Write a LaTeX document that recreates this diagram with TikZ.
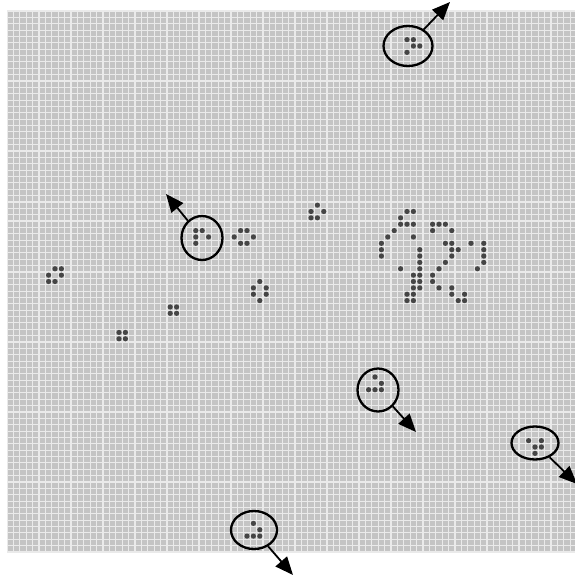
\documentclass[tikz,border=0pt]{standalone}
\usetikzlibrary{shapes.geometric,arrows.meta}
\definecolor{cellgray}{HTML}{C4C4C4}
\definecolor{gridline}{HTML}{EAEAEA}
\definecolor{dotgray}{HTML}{454545}
\begin{document}
\begin{tikzpicture}[x=1pt,y=-1pt,
  dot/.style={fill=dotgray},
  gridrule/.style={draw=gridline,line width=1.1pt},
  ring/.style={ellipse,draw=black,line width=2.3pt,inner sep=0pt,fill=none},
  motion/.style={draw=black,line width=1.8pt,-{Triangle[length=18pt,width=15pt]}}]
\useasboundingbox (0,0) rectangle (575,575);
\fill[white] (0,0) rectangle (575,575);
\fill[cellgray] (7,11) rectangle (575,552);
\begin{scope}
\clip (7,11) rectangle (575,552);
\begin{scope}[shift={(10.2pt,-14.1825pt)},x=6.4pt,y=-6.365pt]
\foreach \k in {0,...,89} \draw[gridrule] (\k-0.5,-1) -- (\k-0.5,86);
\foreach \k in {0,...,85} \draw[gridrule] (-1,\k-0.5) -- (90,\k-0.5);
% gliders
\foreach \i/\j in {62/4,63/4,63/5,64/5,62/6,
  29/34,30/34,29/35,31/35,29/36,
  57/57,58/58,56/59,57/59,58/59,
  81/67,83/67,82/68,83/68,82/69,
  38/80,39/81,37/82,38/82,39/82} \fill[dot] (\i,\j) circle[radius=2.6pt];
% still lifes
\foreach \i/\j in {36/34,37/34,35/35,38/35,36/36,37/36,
  39/42,38/43,40/43,38/44,40/44,39/45,
  48/30,47/31,49/31,47/32,48/32,
  7/40,8/40,6/41,8/41,6/42,7/42,
  25/46,26/46,25/47,26/47,
  17/50,18/50,17/51,18/51} \fill[dot] (\i,\j) circle[radius=2.6pt];
% complex region
\foreach \i/\j in {62/31,63/31,
  61/32,
  61/33,62/33,63/33,66/33,67/33,68/33,
  60/34,66/34,69/34,
  59/35,63/35,
  58/36,68/36,69/36,72/36,74/36,
  58/37,64/37,69/37,70/37,74/37,
  58/38,64/38,69/38,74/38,
  64/39,68/39,74/39,
  61/40,64/40,67/40,73/40,
  63/41,64/41,66/41,
  63/42,64/42,66/42,
  63/43,64/43,67/43,69/43,
  62/44,63/44,69/44,71/44,
  62/45,63/45,70/45,71/45} \fill[dot] (\i,\j) circle[radius=2.6pt];
\end{scope}
\end{scope}
% rings and motion arrows
\node[ring,minimum width=49pt,minimum height=40pt] (e1) at (408,46) {};
\node[ring,minimum width=41pt,minimum height=44pt] (e2) at (202,238) {};
\node[ring,minimum width=41pt,minimum height=43pt] (e3) at (378,390) {};
\node[ring,minimum width=47pt,minimum height=33pt] (e4) at (535,443) {};
\node[ring,minimum width=46pt,minimum height=38pt] (e5) at (254,530) {};
\coordinate (t1) at (450,2);
\coordinate (t2) at (166,194);
\coordinate (t3) at (416,432);
\coordinate (t4) at (577,484);
\coordinate (t5) at (293,575);
\draw[motion] (e1) -- (t1);
\draw[motion] (e2) -- (t2);
\draw[motion] (e3) -- (t3);
\draw[motion] (e4) -- (t4);
\draw[motion] (e5) -- (t5);
\end{tikzpicture}
\end{document}
